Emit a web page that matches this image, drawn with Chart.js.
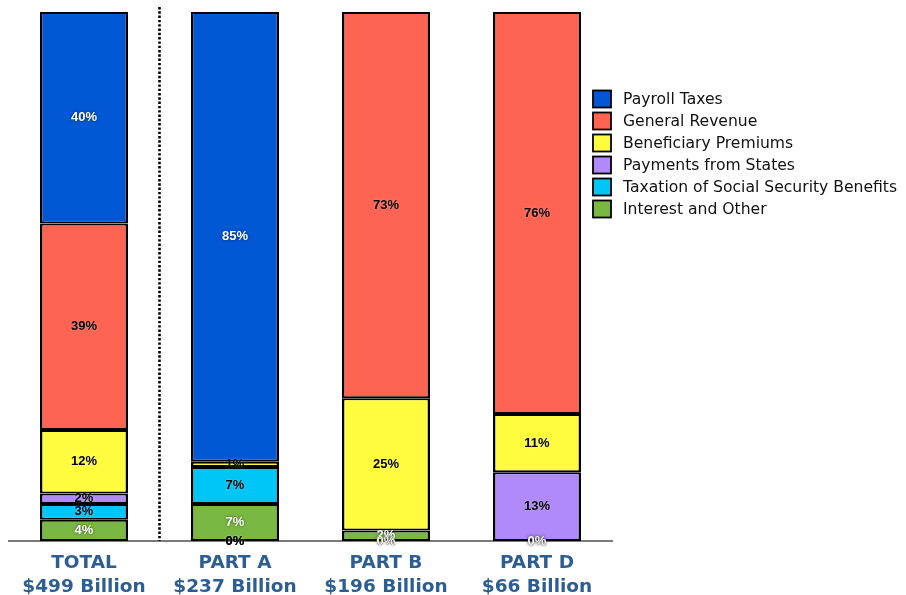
<!DOCTYPE html>
<html>
<head>
<meta charset="utf-8">
<title>Medicare Income by Source</title>
<script src="https://cdn.jsdelivr.net/npm/chart.js@4/dist/chart.umd.min.js"></script>
<style>
  html, body { margin: 0; padding: 0; background: #ffffff; }
  canvas { display: block; }
</style>
</head>
<body>
<canvas id="chart" width="906" height="595"></canvas>
<script>
// Categories and their total income
const categories = ['TOTAL', 'PART A', 'PART B', 'PART D'];
const totals = ['$499 Billion', '$237 Billion', '$196 Billion', '$66 Billion'];

// Share of income by source, in percent (stacked bottom to top)
const interestAndOther   = [4, 7, 2, 0];
const taxationOfBenefits = [3, 7, 0, 0];
const paymentsFromStates = [2, 0, 0, 13];
const beneficiaryPrem    = [12, 1, 25, 11];
const generalRevenue     = [39, 0, 73, 76];
const payrollTaxes       = [40, 85, 0, 0];

const series = [
  { label: 'Interest and Other', data: interestAndOther, color: '#79B842', text: '#ffffff' },
  { label: 'Taxation of Social Security Benefits', data: taxationOfBenefits, color: '#00C5F7', text: '#000000' },
  { label: 'Payments from States', data: paymentsFromStates, color: '#B08AF9', text: '#000000' },
  { label: 'Beneficiary Premiums', data: beneficiaryPrem, color: '#FFFC40', text: '#000000' },
  { label: 'General Revenue', data: generalRevenue, color: '#FF6352', text: '#000000' },
  { label: 'Payroll Taxes', data: payrollTaxes, color: '#0257D5', text: '#ffffff' }
];

// Percent labels inside each segment; empty segments sit on the baseline
const segmentLabels = {
  id: 'segmentLabels',
  afterDatasetsDraw(chart) {
    const ctx = chart.ctx;
    const yScale = chart.scales.y;
    const base = yScale.getPixelForValue(0);
    ctx.save();
    ctx.font = 'bold 13px "Liberation Sans", Arial, sans-serif';
    ctx.textAlign = 'center';
    ctx.textBaseline = 'middle';
    chart.data.datasets.forEach((ds, i) => {
      const meta = chart.getDatasetMeta(i);
      meta.data.forEach((el, j) => {
        const v = ds.data[j];
        const y = v === 0 ? base : (el.y + el.base) / 2;
        if (ds.labelColor === '#ffffff') {
          ctx.shadowColor = 'rgba(0,0,0,0.55)';
          ctx.shadowBlur = 3;
        } else {
          ctx.shadowColor = 'rgba(255,255,255,0.4)';
          ctx.shadowBlur = 2;
        }
        ctx.fillStyle = ds.labelColor;
        ctx.fillText(v + '%', el.x, y);
      });
    });
    ctx.restore();
  }
};

// Dotted divider between the total and the individual parts
const divider = {
  id: 'divider',
  beforeDatasetsDraw(chart) {
    const ctx = chart.ctx;
    const x = (chart.scales.x.getPixelForValue(0) + chart.scales.x.getPixelForValue(1)) / 2;
    const area = chart.chartArea;
    ctx.save();
    ctx.strokeStyle = '#000000';
    ctx.lineWidth = 2.6;
    ctx.setLineDash([2.4, 1.9]);
    ctx.beginPath();
    ctx.moveTo(x, area.top - 5);
    ctx.lineTo(x, area.bottom);
    ctx.stroke();
    ctx.restore();
  }
};

// Legend listed from top of the stack downward
const sideLegend = {
  id: 'sideLegend',
  afterDraw(chart) {
    const ctx = chart.ctx;
    const left = chart.chartArea.right - 19.5;
    const top = 99;
    const rowGap = 22;
    const items = chart.data.datasets.slice().reverse();
    ctx.save();
    ctx.font = '15.6px "DejaVu Sans", Verdana, sans-serif';
    ctx.textBaseline = 'middle';
    ctx.textAlign = 'left';
    items.forEach((ds, k) => {
      const cy = top + k * rowGap;
      ctx.fillStyle = ds.backgroundColor;
      ctx.fillRect(left, cy - 8.5, 18, 17);
      ctx.lineWidth = 1.8;
      ctx.strokeStyle = '#000000';
      ctx.strokeRect(left, cy - 8.5, 18, 17);
      ctx.fillStyle = '#111111';
      ctx.fillText(ds.label, left + 30, cy + 0.5);
    });
    ctx.restore();
  }
};

new Chart(document.getElementById('chart'), {
  type: 'bar',
  data: {
    labels: categories.map((c, i) => [c, totals[i]]),
    datasets: series.map(s => ({
      label: s.label,
      data: s.data,
      backgroundColor: s.color,
      borderColor: '#000000',
      borderWidth: { top: 2, bottom: 2, left: 2.5, right: 2.5 },
      borderSkipped: false,
      labelColor: s.text,
      categoryPercentage: 1,
      barPercentage: 0.583
    }))
  },
  options: {
    responsive: false,
    animation: false,
    layout: { padding: { left: 8.5, top: 12, right: 293.5, bottom: 0 } },
    plugins: {
      legend: { display: false },
      tooltip: { enabled: false }
    },
    scales: {
      x: {
        stacked: true,
        grid: { display: false, drawTicks: false },
        border: { display: true, color: '#7a7a7a', width: 2 },
        ticks: {
          color: '#2D5E93',
          font: { family: '"DejaVu Sans", Verdana, sans-serif', size: 18.5, weight: 'bold', lineHeight: 1.3 },
          padding: 10,
          autoSkip: false,
          maxRotation: 0
        },
        afterFit(scale) { scale.height = 54; }
      },
      y: {
        stacked: true,
        display: false,
        min: 0,
        max: 100
      }
    }
  },
  plugins: [divider, segmentLabels, sideLegend]
});
</script>
</body>
</html>
